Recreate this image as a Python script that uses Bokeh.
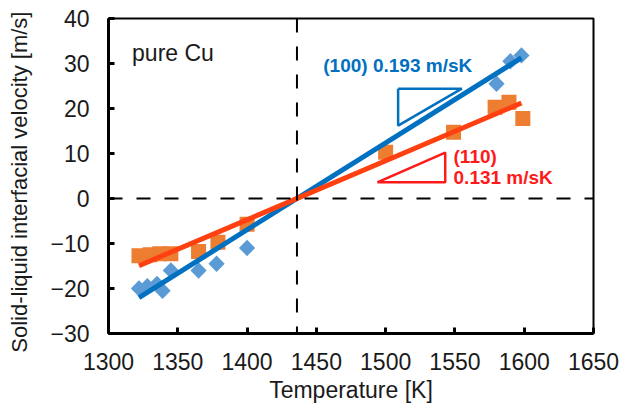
import numpy as np
from bokeh.plotting import figure
from bokeh.models import Range1d, Span, Label, FixedTicker
from bokeh.embed import file_html
from bokeh.resources import INLINE

# Data
t100 = [1322, 1328, 1335, 1339, 1345, 1365, 1378, 1400, 1580, 1590, 1598]
v100 = [-20.0, -19.5, -19.0, -20.5, -16.0, -16.0, -14.5, -11.0, 25.5, 30.5, 31.8]
t110 = [1322, 1330, 1337, 1345, 1365, 1379, 1400, 1500, 1549, 1579, 1589, 1599]
v110 = [-12.7, -12.5, -12.3, -12.3, -11.8, -9.7, -5.7, 10.3, 14.7, 20.3, 21.4, 17.8]

t_melt = 1436
slope100 = 0.193
slope110 = 0.131
fit_t = [1322, 1598]

tri100_t = [1509, 1555, 1509, 1509]
tri100_v = [24.4, 24.4, 16.2, 24.4]
tri110_t = [1494, 1543, 1543, 1494]
tri110_v = [3.6, 10.2, 3.6, 3.6]

x_ticks = [1300, 1350, 1400, 1450, 1500, 1550, 1600, 1650]
y_ticks = [-30, -20, -10, 0, 10, 20, 30, 40]

x_title = "Temperature [K]"
y_title = "Solid-liquid interfacial velocity [m/s]"

FONT = "Liberation Sans"
BLUE_MARK = "#5B9BD5"
ORANGE_MARK = "#ED7D31"
BLUE_LINE = "#0070C0"
RED_LINE = "#FF4010"
RED_TXT = "#FF1A1A"
TXT = "#1a1a1a"

p = figure(width=638, height=410, output_backend="svg", toolbar_location=None,
           x_range=Range1d(1300, 1650), y_range=Range1d(-30, 40),
           min_border_left=108, min_border_right=45, min_border_top=18, min_border_bottom=77)
p.grid.visible = False
p.background_fill_color = "white"
p.border_fill_color = "white"
p.outline_line_color = "black"
p.outline_line_width = 2
p.outline_line_alpha = 1

for ax in (p.xaxis, p.yaxis):
    ax.axis_line_width = 3
    ax.axis_line_color = "black"
    ax.major_tick_in = 6
    ax.major_tick_out = 0
    ax.major_tick_line_width = 3
    ax.minor_tick_line_color = None
    ax.major_label_text_font = FONT
    ax.major_label_text_font_size = "23px"
    ax.major_label_text_color = TXT
    ax.axis_label_text_font = FONT
    ax.axis_label_text_font_style = "normal"
    ax.axis_label_text_color = TXT

p.xaxis.ticker = FixedTicker(ticks=x_ticks)
p.yaxis.ticker = FixedTicker(ticks=y_ticks)
p.xaxis.major_label_standoff = 19
p.yaxis.major_label_standoff = 19
p.xaxis.axis_label = x_title
p.xaxis.axis_label_text_font_size = "23px"
p.xaxis.axis_label_standoff = 4
# two trailing no-break spaces nudge the visible title slightly downward, as in the original
p.yaxis.axis_label = y_title + "\u00a0\u00a0"
p.yaxis.axis_label_text_font_size = "22px"
p.yaxis.axis_label_standoff = 15

# dashed reference lines
p.add_layout(Span(location=0, dimension="width", line_color="black", line_width=2, line_dash="14 14"))
p.add_layout(Span(location=t_melt, dimension="height", line_color="black", line_width=2, line_dash="14 14"))

# markers
p.scatter(t110, v110, marker="square", size=15, fill_color=ORANGE_MARK, line_color=None)
p.scatter(t100, v100, marker="square", angle=np.pi / 4, size=11.5, fill_color=BLUE_MARK, line_color=None)

# fit lines
ft = np.array(fit_t)
p.line(ft, slope100 * (ft - t_melt), line_color=BLUE_LINE, line_width=5)
p.line(ft, slope110 * (ft - t_melt), line_color=RED_LINE, line_width=5)

# slope triangles
p.line(tri100_t, tri100_v, line_color=BLUE_LINE, line_width=2.5)
p.line(tri110_t, tri110_v, line_color=RED_TXT, line_width=2.5)

# annotations
p.add_layout(Label(x=1317, y=32.4, text="pure Cu", text_font=FONT, text_font_size="23px",
                   text_color=TXT, text_baseline="middle"))
p.add_layout(Label(x=1455, y=29.6, text="(100) 0.193 m/sK", text_font=FONT, text_font_size="19px",
                   text_font_style="bold", text_color=BLUE_LINE, text_baseline="middle"))
p.add_layout(Label(x=1549, y=9.3, text="(110)", text_font=FONT, text_font_size="19px",
                   text_font_style="bold", text_color=RED_TXT, text_baseline="middle"))
p.add_layout(Label(x=1549, y=4.6, text="0.131 m/sK", text_font=FONT, text_font_size="19px",
                   text_font_style="bold", text_color=RED_TXT, text_baseline="middle"))

open("out.html", "w").write(file_html(p, INLINE))
